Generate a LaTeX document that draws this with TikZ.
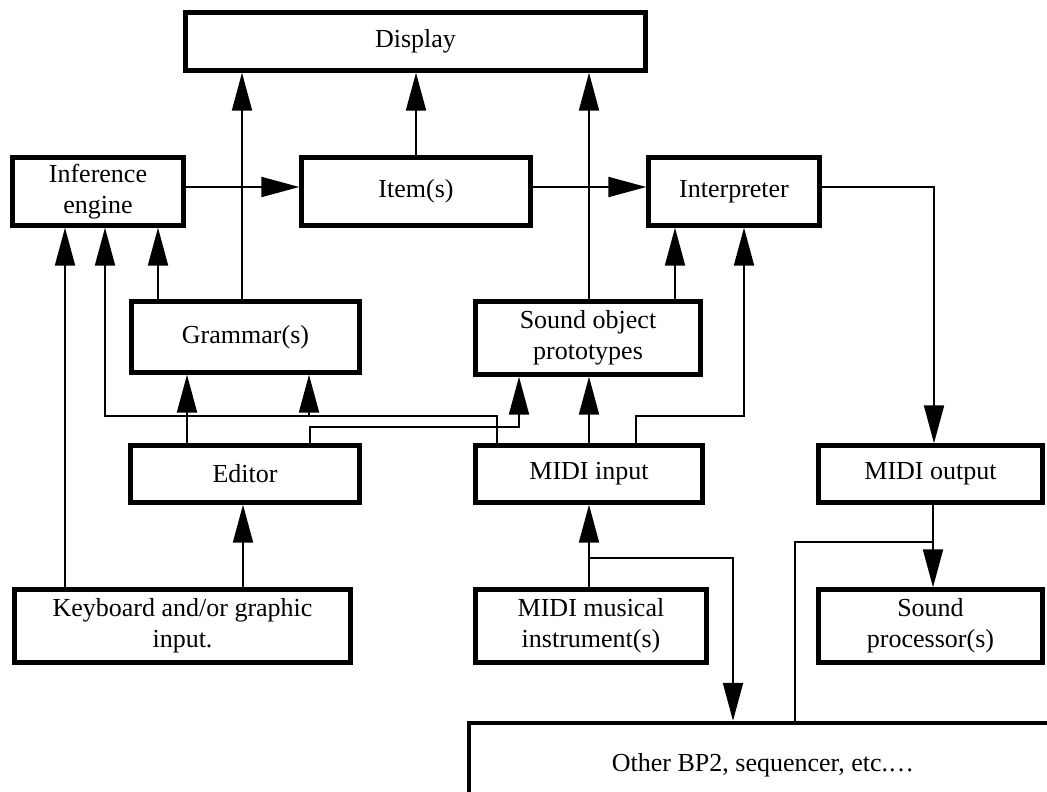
\documentclass[tikz,border=0pt]{standalone}
\usepackage{fontspec}
\setmainfont{Liberation Serif}
\usetikzlibrary{arrows.meta}

\begin{document}
\begin{tikzpicture}[x=0.5pt, y=-0.5pt, >={Triangle[width=10pt,length=19pt]},
        box/.style={draw, line width=2.2pt, inner sep=0pt, align=center,
                    font=\fontsize{13}{15.5}\selectfont},
        link/.style={line width=1pt}]

        % Page frame (the bottom box runs off the page)
        \useasboundingbox (0,0) rectangle (1047,791);
        \clip (0,0) rectangle (1047,791);

        % Top row
        \node[box, minimum width=230pt, minimum height=29pt] (disp) at (415.5,41.5) {Display};
        \node[box, minimum width=85.5pt, minimum height=34pt] (infer) at (98,191.5) {Inference\\engine};
        \node[box, minimum width=114.5pt, minimum height=34pt] (item) at (416,191.5) {Item(s)};
        \node[box, minimum width=85.5pt, minimum height=34pt] (interp) at (734,191.5) {Interpreter};

        % Stored data
        \node[box, minimum width=114pt, minimum height=35.5pt] (gram) at (245.5,337) {Grammar(s)};
        \node[box, minimum width=112.5pt, minimum height=36.5pt] (sop) at (588,338) {Sound object\\prototypes};

        % Input / output modules
        \node[box, minimum width=114.5pt, minimum height=28.5pt] (edit) at (245,474) {Editor};
        \node[box, minimum width=113.5pt, minimum height=28.5pt] (midiin) at (589,474) {MIDI input};
        \node[box, minimum width=112pt, minimum height=28.5pt] (midiout) at (930.5,474) {MIDI output};

        % Devices
        \node[box, minimum width=168pt, minimum height=36.5pt] (keyb) at (182.5,626) {Keyboard and/or graphic\\input.};
        \node[box, minimum width=115.5pt, minimum height=36.5pt] (instr) at (591,626) {MIDI musical\\instrument(s)};
        \node[box, minimum width=112pt, minimum height=36.5pt] (sproc) at (930.5,626) {Sound\\processor(s)};
        \node[box, minimum width=294pt, minimum height=42pt] (other) at (763,765) {Other BP2, sequencer, etc.\ldots};

        % Bend points of the shared lines
        \coordinate (busgram) at (309,416);
        \coordinate (busother) at (589,558);
        \coordinate (joinsproc) at (933,542);

        % Into Display
        \draw[link,->] (gram.north -| 242,0) -- (disp.south -| 242,0);
        \draw[link,->] (item.north) -- (disp.south -| item.north);
        \draw[link,->] (sop.north -| 589,0) -- (disp.south -| 589,0);

        % Main chain
        \draw[link,->] (infer.east |- 0,187) -- (item.west |- 0,187);
        \draw[link,->] (item.east |- 0,187) -- (interp.west |- 0,187);
        \draw[link,->] (interp.east |- 0,187) -| (midiout.north -| 934,0);

        % Into Inference engine
        \draw[link,->] (gram.north -| 158,0) -- (infer.south -| 158,0);
        \draw[link,->] (keyb.north -| 65,0) -- (infer.south -| 65,0);
        \draw[link,->] (midiin.north -| 497,0) |- (105,416) -- (infer.south -| 105,0);

        % Into Grammar(s) and Sound object prototypes
        \draw[link,->] (busgram) -- (gram.south -| 309,0);
        \draw[link,->] (edit.north -| 187,0) -- (gram.south -| 187,0);
        \draw[link,->] (edit.north -| 310,0) |- (519,427) -- (sop.south -| 519,0);
        \draw[link,->] (midiin.north -| 589,0) -- (sop.south -| 589,0);

        % Into Interpreter
        \draw[link,->] (midiin.north -| 636,0) |- (744,416) -- (interp.south -| 744,0);
        \draw[link,->] (sop.north -| 675,0) -- (interp.south -| 675,0);

        % Devices
        \draw[link,->] (keyb.north -| 243,0) -- (edit.south -| 243,0);
        \draw[link,->] (instr.north -| 589,0) -- (midiin.south -| 589,0);
        \draw[link,->] (busother) -| (other.north -| 733,0);
        \draw[link,->] (midiout.south -| 933,0) -- (sproc.north -| 933,0);
        \draw[link] (other.north -| 795,0) |- (joinsproc);

\end{tikzpicture}
\end{document}
